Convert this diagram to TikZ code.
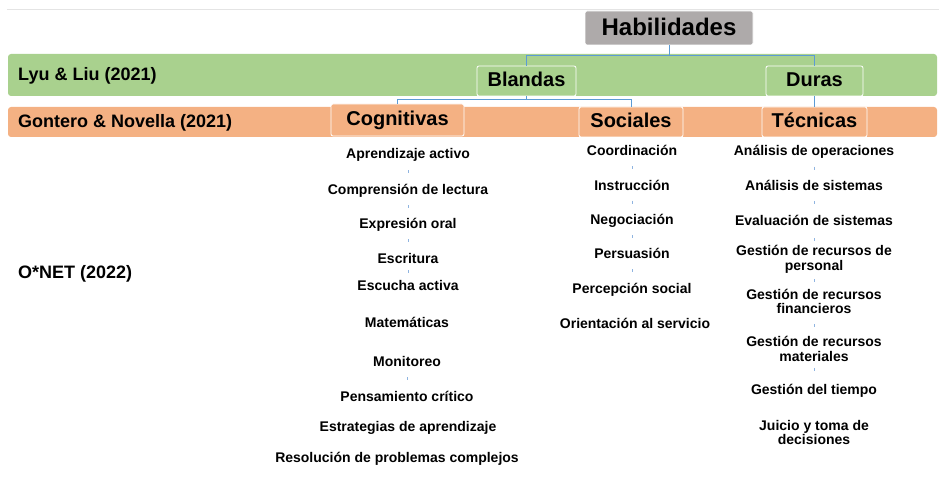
\documentclass[tikz,border=0pt]{standalone}
\usepackage{fontspec}
\setmainfont{Liberation Sans}
\usetikzlibrary{calc}
\definecolor{bandgreen}{HTML}{A9D18E}
\definecolor{bandorange}{HTML}{F4B183}
\definecolor{boxgray}{HTML}{AEAAAA}
\definecolor{linkblue}{HTML}{5B9BD5}
\definecolor{stubblue}{HTML}{8FB4E0}
\definecolor{rulegray}{HTML}{E4E4E4}
\tikzset{
  band/.style={rounded corners=3pt},
  sourcelabel/.style={anchor=west,inner sep=0pt,text height=13.9pt,text depth=1pt,
    font=\fontsize{18}{20}\selectfont\bfseries},
  levelbox/.style={draw=white,line width=0.8pt,rounded corners=2pt,inner sep=0pt,
    text height=15pt,text depth=3pt,font=\fontsize{20}{22}\selectfont\bfseries},
  skill/.style={inner sep=0pt,text height=11pt,text depth=1pt,
    font=\fontsize{14}{14.5}\selectfont\bfseries},
  skilltwo/.style={align=center,inner sep=0pt,font=\fontsize{14}{14.5}\selectfont\bfseries},
  link/.style={draw=linkblue,line width=0.8pt},
  stub/.style={draw=stubblue,line width=0.8pt}
}
\begin{document}
\begin{tikzpicture}[x=1pt,y=-1pt]
\useasboundingbox (0,0) rectangle (939,481);
\draw[rulegray,line width=0.8pt] (7,9)--(939,9);
% bandas de las fuentes
\fill[band,bandgreen] (8,54) rectangle (937,96);
\fill[band,bandorange] (8,107) rectangle (937,137);
\node[sourcelabel] (lyu) at (18,74) {Lyu \& Liu (2021)};
\node[sourcelabel] (gon) at (18,121) {Gontero \& Novella (2021)};
\node[sourcelabel] (onet) at (18,272) {O*NET (2022)};
% jerarquia
\node[levelbox,fill=boxgray,minimum width=168pt,minimum height=34pt,text height=18pt,text depth=2pt,
  font=\fontsize{24}{26}\selectfont\bfseries] (hab) at (669,28) {Habilidades};
\node[levelbox,fill=bandgreen,minimum width=99pt,minimum height=30pt] (bla) at (526.5,81) {Blandas};
\node[levelbox,fill=bandgreen,minimum width=97pt,minimum height=30pt] (dur) at (814.5,81) {Duras};
\node[levelbox,fill=bandorange,minimum width=133pt,minimum height=32pt] (cog) at (397.5,120) {Cognitivas};
\node[levelbox,fill=bandorange,minimum width=104pt,minimum height=30pt] (soc) at (631,122) {Sociales};
\node[levelbox,fill=bandorange,minimum width=105pt,minimum height=30pt] (tec) at (814.5,122) {Técnicas};
\draw[link] (hab.south) -- ++(0,10) -| (bla.north);
\draw[link] (hab.south) -- ++(0,10) -| (dur.north);
\draw[link] (bla.south) -- ++(0,3) -| (cog.north);
\draw[link] (bla.south) -- ++(0,3) -| (soc.north);
\draw[link] (dur.south) -- (tec.north);
% cognitivas
\node[skill] (c1) at (408,154) {Aprendizaje activo};
\node[skill] (c2) at (408,190) {Comprensión de lectura};
\node[skill] (c3) at (408,223) {Expresión oral};
\node[skill] (c4) at (408,258) {Escritura};
\node[skill] (c5) at (408,285) {Escucha activa};
\node[skill] (c6) at (407,322) {Matemáticas};
\node[skill] (c7) at (407,361) {Monitoreo};
\node[skill] (c8) at (407,396) {Pensamiento crítico};
\node[skill] (c9) at (408,426) {Estrategias de aprendizaje};
\node[skill] (c10) at (397,457) {Resolución de problemas complejos};
\draw[stub] ($(c1)!0.5!(c2)$) ++(0,-1.5) -- ++(0,3);
\draw[stub] ($(c2)!0.5!(c3)$) ++(0,-1.5) -- ++(0,3);
\draw[stub] ($(c3)!0.5!(c4)$) ++(0,-1.5) -- ++(0,3);
\draw[stub] ($(c4)!0.5!(c5)$) ++(0,-1.5) -- ++(0,3);
\draw[stub] ($(c7)!0.5!(c8)$) ++(0,-1.5) -- ++(0,3);
% sociales
\node[skill] (s1) at (632,151) {Coordinación};
\node[skill] (s2) at (632,185) {Instrucción};
\node[skill] (s3) at (632,219.5) {Negociación};
\node[skill] (s4) at (632,253.5) {Persuasión};
\node[skill] (s5) at (632,288) {Percepción social};
\node[skill] (s6) at (635,323) {Orientación al servicio};
\draw[stub] ($(s1)!0.5!(s2)$) ++(0,-1.5) -- ++(0,3);
\draw[stub] ($(s2)!0.5!(s3)$) ++(0,-1.5) -- ++(0,3);
\draw[stub] ($(s3)!0.5!(s4)$) ++(0,-1.5) -- ++(0,3);
\draw[stub] ($(s4)!0.5!(s5)$) ++(0,-1.5) -- ++(0,3);
% tecnicas
\node[skill] (t1) at (814,151) {Análisis de operaciones};
\node[skill] (t2) at (814,185.3) {Análisis de sistemas};
\node[skill] (t3) at (814,220) {Evaluación de sistemas};
\node[skilltwo] (t4) at (814,259.5) {Gestión de recursos de\\personal};
\node[skilltwo] (t5) at (814,301.5) {Gestión de recursos\\financieros};
\node[skilltwo] (t6) at (814,349) {Gestión de recursos\\materiales};
\node[skill] (t7) at (814,389.7) {Gestión del tiempo};
\node[skilltwo] (t8) at (814,432.5) {Juicio y toma de\\decisiones};
\draw[stub] ($(t1)!0.5!(t2)$) ++(0,-1.5) -- ++(0,3);
\draw[stub] ($(t2)!0.5!(t3)$) ++(0,-1.5) -- ++(0,3);
\draw[stub] ($(t3)!0.5!(t4)$) ++(0,-1.5) -- ++(0,3);
\draw[stub] ($(t4)!0.5!(t5)$) ++(0,-1.5) -- ++(0,3);
\draw[stub] ($(t5)!0.5!(t6)$) ++(0,-1.5) -- ++(0,3);
\draw[stub] ($(t6)!0.5!(t7)$) ++(0,-1.5) -- ++(0,3);
\end{tikzpicture}
\end{document}
